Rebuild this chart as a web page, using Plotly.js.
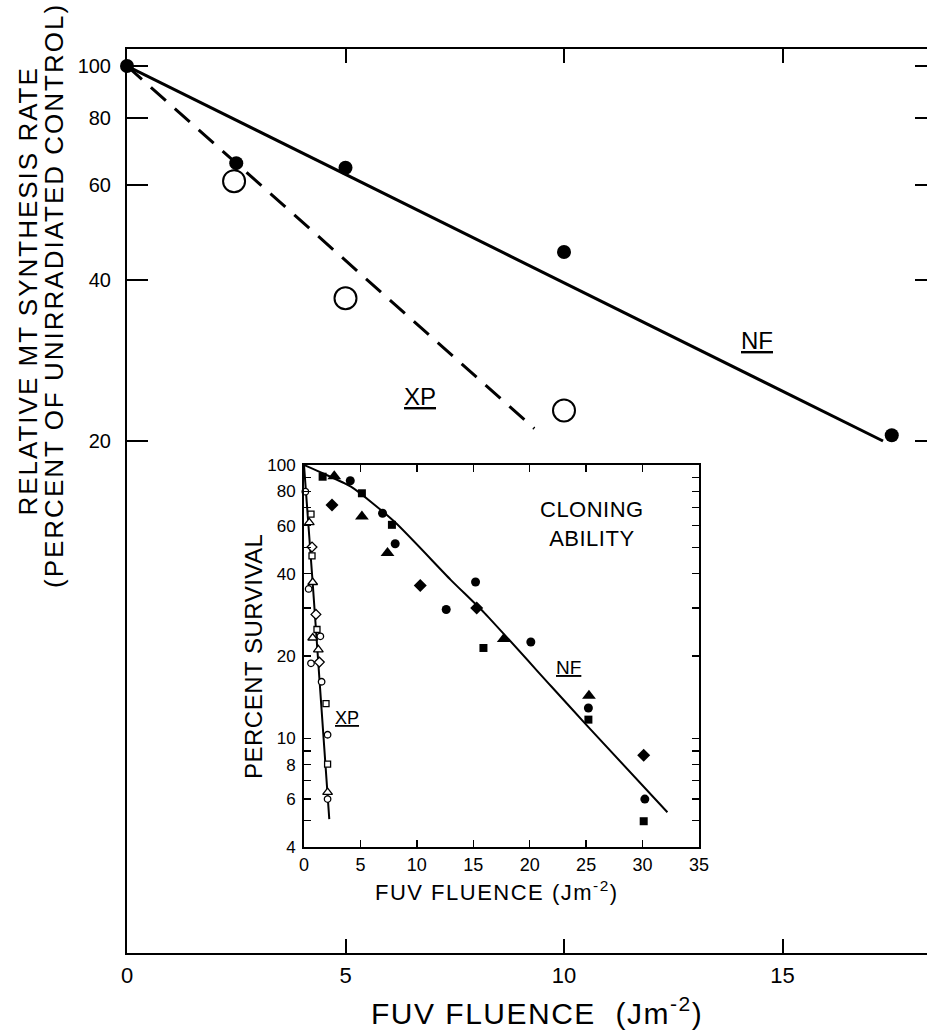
<!DOCTYPE html>
<html><head><meta charset="utf-8">
<script src="https://cdn.plot.ly/plotly-3.0.1.min.js"></script>
<style>html,body{margin:0;padding:0;overflow:hidden;background:#fff;}</style>
</head><body><div id="chart" style="width:936px;height:1032px;"></div>
<script>
// ---------- main panel data ----------
const mainFluence = [0, 2.5, 5, 10, 17.5];
const nfRate = [100, 65.9, 64.6, 45.0, 20.5];
const xpFluence = [2.45, 5, 10];
const xpRate = [61.0, 36.9, 22.8];
const nfFitX = [0, 17.3];
const nfFitY = [100, 20.0];
const xpFitX = [0, 9.32];
const xpFitY = [100, 21.1];
const mainYTicks = [20, 40, 60, 80, 100];
const mainXTicks = [0, 5, 10, 15];

// ---------- inset (cloning ability) data ----------
const nfCircX = [4.1, 6.96, 8.08, 12.6, 15.2, 20.1, 25.2, 30.2];
const nfCircY = [87.6, 66.6, 51.5, 29.6, 37.3, 22.5, 12.9, 5.99];
const nfSqX = [1.65, 5.13, 7.79, 15.9, 25.2, 30.1];
const nfSqY = [90.6, 78.8, 60.4, 21.4, 11.7, 4.97];
const nfTriX = [2.68, 5.13, 7.4, 17.7, 25.25];
const nfTriY = [91, 64.8, 47.6, 23.1, 14.3];
const nfDiaX = [2.48, 10.3, 15.3, 30.1];
const nfDiaY = [71.4, 36.2, 30.0, 8.67];

const xpCircX = [0.12, 0.41, 1.45, 0.62, 1.56, 2.09, 2.09];
const xpCircY = [79.9, 35.2, 23.6, 18.8, 16.1, 10.3, 5.99];
const xpSqX = [0.62, 0.71, 1.15, 1.95, 2.09];
const xpSqY = [66.1, 46.5, 25.0, 13.4, 8.04];
const xpTriX = [0.47, 0.77, 0.77, 1.27, 2.09];
const xpTriY = [61.6, 37.2, 23.3, 21.1, 6.34];
const xpDiaX = [0.71, 1.06, 1.36];
const xpDiaY = [50.1, 28.4, 19.0];

const nfCurveX = [0, 1.6, 4.16, 8.0, 13.0, 16.0, 21.9, 25.1, 32.2];
const nfCurveY = [100, 93.5, 83.3, 62.1, 38.0, 28.7, 15.5, 11.1, 5.36];
const xpCurveX = [0, 0.77, 2.24];
const xpCurveY = [100, 37, 5.06];

const insetXTicks = [0, 5, 10, 15, 20, 25, 30, 35];
const insetYTicks = [4, 6, 8, 10, 20, 40, 60, 80, 100];
const insetYMinor = [5, 7, 9, 30, 50, 70, 90];

// ---------- layout geometry ----------
const FIG_W = 936, FIG_H = 1032;
const L = 127, T = 49, B = 79, R = 0;
const PW = FIG_W - L - R, PH = FIG_H - T - B;
const px = x => (x - L) / PW;
const py = y => (FIG_H - B - y) / PH;
const FONT = 'Liberation Sans, Arial, sans-serif';

const traces = [
  {x: nfFitX, y: nfFitY, mode: 'lines', line: {color: '#000', width: 3}, xaxis: 'x', yaxis: 'y'},
  {x: xpFitX, y: xpFitY, mode: 'lines', line: {color: '#000', width: 3, dash: '20px,12px'}, xaxis: 'x', yaxis: 'y'},
  {x: mainFluence, y: nfRate, mode: 'markers', cliponaxis: false,
   marker: {symbol: 'circle', size: 14, color: '#000'}, xaxis: 'x', yaxis: 'y'},
  {x: xpFluence, y: xpRate, mode: 'markers', cliponaxis: false,
   marker: {symbol: 'circle', size: 22, color: '#fff', line: {color: '#000', width: 2}}, xaxis: 'x', yaxis: 'y'},
  // inset
  {x: nfCurveX, y: nfCurveY, mode: 'lines', line: {color: '#000', width: 2, shape: 'spline', smoothing: 0.6}, xaxis: 'x2', yaxis: 'y2'},
  {x: xpCurveX, y: xpCurveY, mode: 'lines', line: {color: '#000', width: 2}, xaxis: 'x2', yaxis: 'y2'},
  {x: nfCircX, y: nfCircY, mode: 'markers', marker: {symbol: 'circle', size: 9, color: '#000'}, xaxis: 'x2', yaxis: 'y2'},
  {x: nfSqX, y: nfSqY, mode: 'markers', marker: {symbol: 'square', size: 8, color: '#000'}, xaxis: 'x2', yaxis: 'y2'},
  {x: nfTriX, y: nfTriY, mode: 'markers', marker: {symbol: 'triangle-up', size: 12, color: '#000'}, xaxis: 'x2', yaxis: 'y2'},
  {x: nfDiaX, y: nfDiaY, mode: 'markers', marker: {symbol: 'diamond', size: 10, color: '#000'}, xaxis: 'x2', yaxis: 'y2'},
  {x: xpCircX, y: xpCircY, mode: 'markers', cliponaxis: false, marker: {symbol: 'circle', size: 6.5, color: '#fff', line: {color: '#000', width: 1.3}}, xaxis: 'x2', yaxis: 'y2'},
  {x: xpSqX, y: xpSqY, mode: 'markers', cliponaxis: false, marker: {symbol: 'square', size: 6, color: '#fff', line: {color: '#000', width: 1.3}}, xaxis: 'x2', yaxis: 'y2'},
  {x: xpTriX, y: xpTriY, mode: 'markers', cliponaxis: false, marker: {symbol: 'triangle-up', size: 8.5, color: '#fff', line: {color: '#000', width: 1.3}}, xaxis: 'x2', yaxis: 'y2'},
  {x: xpDiaX, y: xpDiaY, mode: 'markers', cliponaxis: false, marker: {symbol: 'diamond', size: 7.5, color: '#fff', line: {color: '#000', width: 1.3}}, xaxis: 'x2', yaxis: 'y2'}
];

function ann(text, x, y, size, angle) {
  return {text: text, xref: 'paper', yref: 'paper', x: px(x), y: py(y),
    xanchor: 'center', yanchor: 'middle', showarrow: false, textangle: angle || 0,
    font: {family: FONT, size: size, color: '#000'}};
}

const layout = {
  width: FIG_W, height: FIG_H,
  margin: {l: L, r: R, t: T, b: B, pad: 0},
  paper_bgcolor: '#fff', plot_bgcolor: '#fff',
  showlegend: false, hovermode: false,
  font: {family: FONT, color: '#000'},
  xaxis: {range: [0, PW / 43.7], tickvals: mainXTicks, ticktext: mainXTicks.map(String),
    ticks: 'inside', ticklen: 14, tickwidth: 2, tickcolor: '#000',
    showline: true, linewidth: 2, linecolor: '#000', mirror: 'ticks',
    showgrid: false, zeroline: false, ticklabelstandoff: 2,
    tickfont: {family: FONT, size: 22, color: '#000'}},
  yaxis: {type: 'log', range: [0.3467, 2.0317], tickvals: mainYTicks, ticktext: mainYTicks.map(String),
    ticks: 'inside', ticklen: 21, tickwidth: 2, tickcolor: '#000',
    showline: true, linewidth: 2, linecolor: '#000', mirror: 'ticks',
    showgrid: false, zeroline: false, ticklabelstandoff: 10,
    tickfont: {family: FONT, size: 20, color: '#000'}},
  xaxis2: {domain: [px(304), px(699)], anchor: 'y2', range: [0, 35],
    tickvals: insetXTicks, ticktext: insetXTicks.map(String),
    ticks: 'inside', ticklen: 7, tickwidth: 1.5, tickcolor: '#000',
    showline: true, linewidth: 2, linecolor: '#000', mirror: 'ticks',
    showgrid: false, zeroline: false, ticklabelstandoff: 0,
    tickfont: {family: FONT, size: 18, color: '#000'}},
  yaxis2: {domain: [py(847), py(465)], anchor: 'x2', type: 'log', range: [Math.log10(4), 2],
    tickvals: insetYTicks, ticktext: insetYTicks.map(String),
    ticks: 'inside', ticklen: 7, tickwidth: 1.5, tickcolor: '#000',
    minor: {tickvals: insetYMinor, ticks: 'inside', ticklen: 7, tickwidth: 1.5, tickcolor: '#000', showgrid: false},
    showline: true, linewidth: 2, linecolor: '#000', mirror: 'ticks',
    showgrid: false, zeroline: false, ticklabelstandoff: 3,
    tickfont: {family: FONT, size: 17, color: '#000'}},
  annotations: [
    ann('<span style="letter-spacing:2px">RELATIVE MT SYNTHESIS RATE</span>', 27.5, 291, 26, -90),
    ann('<span style="letter-spacing:2px">(PERCENT OF UNIRRADIATED CONTROL)</span>', 54, 296, 26, -90),
    ann('<span style="letter-spacing:1.5px">FUV FLUENCE  (Jm<sup>-2</sup>)</span>', 537, 1011, 30, 0),
    ann('<u>NF</u>', 757, 341, 24, 0),
    ann('<u>XP</u>', 420, 396, 24, 0),
    ann('<span style="letter-spacing:0.5px">PERCENT SURVIVAL</span>', 254, 657, 24, -90),
    ann('<span style="letter-spacing:1.5px">FUV FLUENCE (Jm<sup>-2</sup>)</span>', 497, 891, 22, 0),
    ann('<span style="letter-spacing:0.5px">CLONING<br>ABILITY</span>', 592, 524, 22, 0),
    ann('<u>NF</u>', 568, 667, 19, 0),
    ann('<u>XP</u>', 347, 718, 18, 0)
  ]
};

Plotly.newPlot('chart', traces, layout, {staticPlot: true, displayModeBar: false});
</script>
</body></html>
